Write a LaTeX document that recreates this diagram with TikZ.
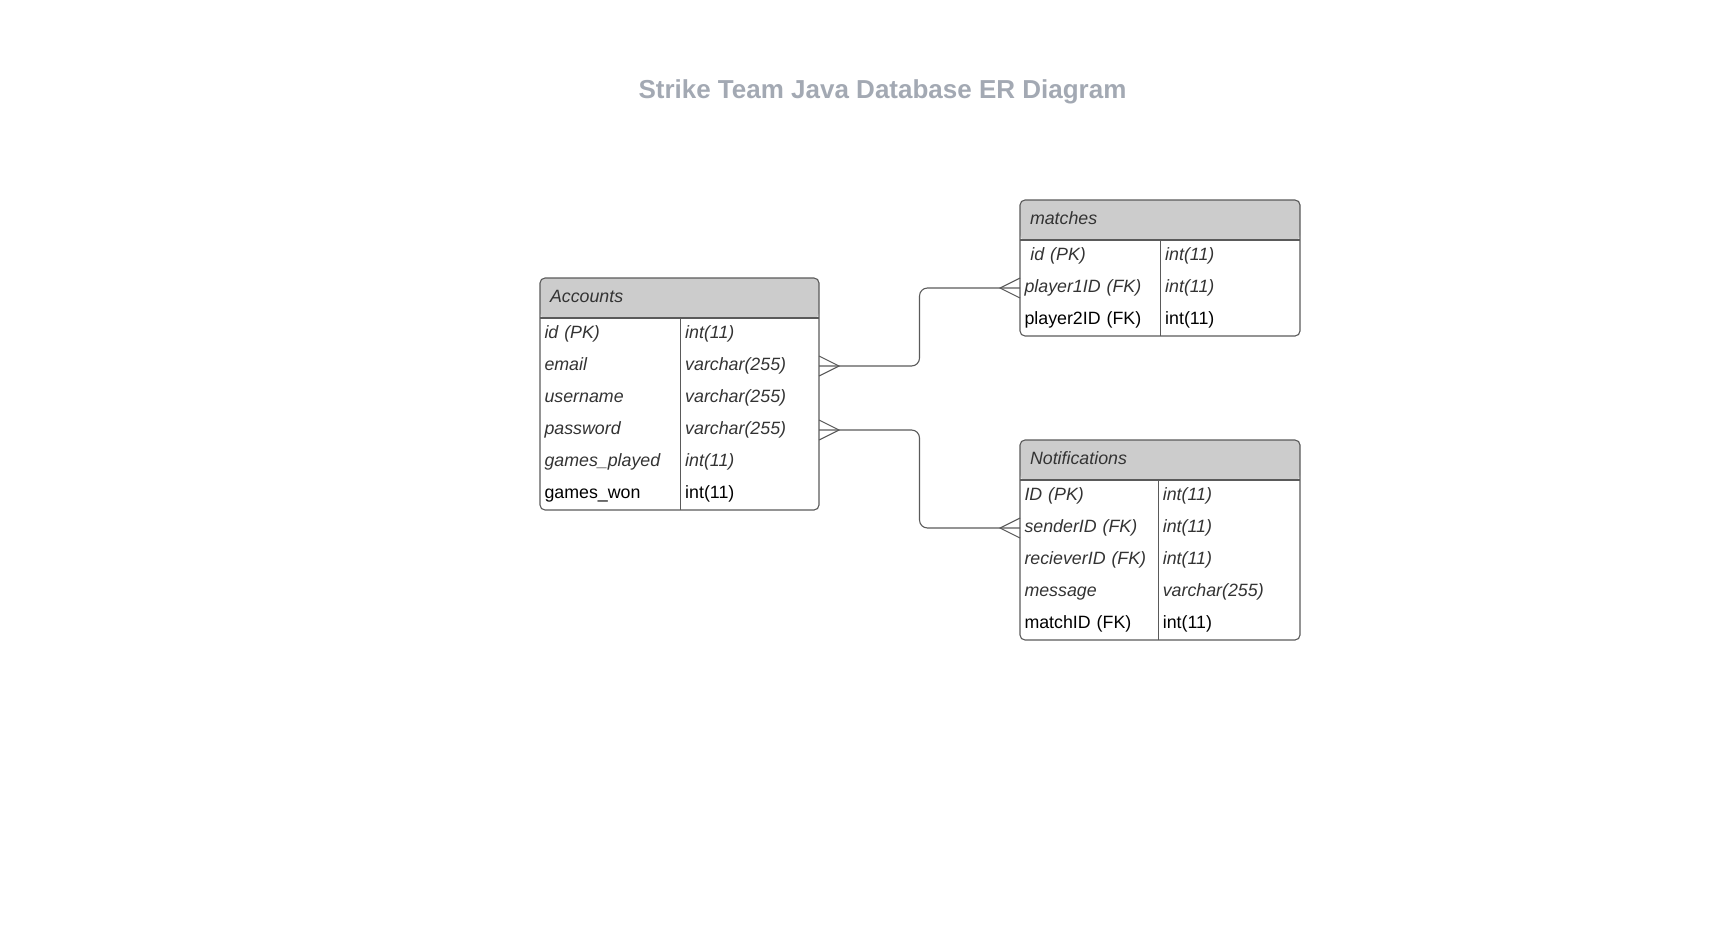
\documentclass[tikz,border=0pt]{standalone}
\usepackage{fontspec}
\setmainfont{Liberation Sans}
\usetikzlibrary{fit, positioning, calc}

\definecolor{titlegray}{HTML}{A3A9B3}
\definecolor{headgray}{HTML}{CCCCCC}
\definecolor{edgegray}{HTML}{5A5A5A}
\definecolor{fldtext}{HTML}{333333}

\begin{document}
\begin{tikzpicture}[
        x=1pt, y=-1pt,
        title/.style={font=\fontsize{26pt}{30pt}\selectfont\bfseries, text=titlegray, anchor=base},
        head/.style={rectangle, fill=headgray, rounded corners=5pt, anchor=north west, minimum height=40pt, inner xsep=10pt, inner ysep=0pt, outer sep=0pt, text width=#1, align=left, text height=12pt, text depth=4pt, font=\fontsize{17.8pt}{21pt}\selectfont\itshape, text=fldtext},
        fld/.style={rectangle, minimum height=32pt, inner xsep=4.5pt, inner ysep=0pt, outer sep=0pt, text width=#1, align=left, text height=12pt, text depth=4pt, font=\fontsize{17.8pt}{21pt}\selectfont\itshape, text=fldtext},
        fldlast/.style={fld=#1, font=\fontsize{17.8pt}{21pt}\selectfont\upshape, text=black},
        tbl/.style={rectangle, draw=edgegray, line width=1.1pt, rounded corners=5pt, inner sep=0pt},
        edge/.style={draw=edgegray, line width=1.1pt},
        link/.style={draw=edgegray, line width=1.1pt, rounded corners=8pt},
        foot/.style={draw=edgegray, line width=1.1pt}
    ]
        \useasboundingbox (0,0) rectangle (1720,945);

        % Title
        \node[title] (ttl) at (882.5,98.5) {Strike Team Java Database ER Diagram};

        % Accounts
        \node[head=259pt] (acc) at (540,278) {Accounts};
        \node[fld=131.7pt, below=0pt of acc.south west, anchor=north west] (acc-id) {id (PK)};
        \node[fld=129.3pt, right=0pt of acc-id] (acc-id-t) {int(11)};
        \node[fld=131.7pt, below=0pt of acc-id] (acc-mail) {email};
        \node[fld=129.3pt, right=0pt of acc-mail] (acc-mail-t) {varchar(255)};
        \node[fld=131.7pt, below=0pt of acc-mail] (acc-user) {username};
        \node[fld=129.3pt, right=0pt of acc-user] (acc-user-t) {varchar(255)};
        \node[fld=131.7pt, below=0pt of acc-user] (acc-pass) {password};
        \node[fld=129.3pt, right=0pt of acc-pass] (acc-pass-t) {varchar(255)};
        \node[fld=131.7pt, below=0pt of acc-pass] (acc-play) {games\_played};
        \node[fld=129.3pt, right=0pt of acc-play] (acc-play-t) {int(11)};
        \node[fldlast=131.7pt, below=0pt of acc-play] (acc-won) {games\_won};
        \node[fldlast=129.3pt, right=0pt of acc-won] (acc-won-t) {int(11)};
        \node[tbl, fit=(acc)(acc-won-t)] (acc-box) {};
        \draw[edge] (acc.south west) -- (acc.south east);
        \draw[edge] (acc-id-t.north west) -- (acc-won-t.south west);

        % matches
        \node[head=260pt] (mat) at (1020,200) {matches};
        \node[fld=131.7pt, below=0pt of mat.south west, anchor=north west] (mat-id) {\ id (PK)};
        \node[fld=130.3pt, right=0pt of mat-id] (mat-id-t) {int(11)};
        \node[fld=131.7pt, below=0pt of mat-id] (mat-p1) {player1ID (FK)};
        \node[fld=130.3pt, right=0pt of mat-p1] (mat-p1-t) {int(11)};
        \node[fldlast=131.7pt, below=0pt of mat-p1] (mat-p2) {player2ID (FK)};
        \node[fldlast=130.3pt, right=0pt of mat-p2] (mat-p2-t) {int(11)};
        \node[tbl, fit=(mat)(mat-p2-t)] (mat-box) {};
        \draw[edge] (mat.south west) -- (mat.south east);
        \draw[edge] (mat-id-t.north west) -- (mat-p2-t.south west);

        % Notifications
        \node[head=260pt] (ntf) at (1020,440) {Notifications};
        \node[fld=129.3pt, below=0pt of ntf.south west, anchor=north west] (ntf-id) {ID (PK)};
        \node[fld=132.7pt, right=0pt of ntf-id] (ntf-id-t) {int(11)};
        \node[fld=129.3pt, below=0pt of ntf-id] (ntf-snd) {senderID (FK)};
        \node[fld=132.7pt, right=0pt of ntf-snd] (ntf-snd-t) {int(11)};
        \node[fld=129.3pt, below=0pt of ntf-snd] (ntf-rcv) {recieverID (FK)};
        \node[fld=132.7pt, right=0pt of ntf-rcv] (ntf-rcv-t) {int(11)};
        \node[fld=129.3pt, below=0pt of ntf-rcv] (ntf-msg) {message};
        \node[fld=132.7pt, right=0pt of ntf-msg] (ntf-msg-t) {varchar(255)};
        \node[fldlast=129.3pt, below=0pt of ntf-msg] (ntf-mid) {matchID (FK)};
        \node[fldlast=132.7pt, right=0pt of ntf-mid] (ntf-mid-t) {int(11)};
        \node[tbl, fit=(ntf)(ntf-mid-t)] (ntf-box) {};
        \draw[edge] (ntf.south west) -- (ntf.south east);
        \draw[edge] (ntf-id-t.north west) -- (ntf-mid-t.south west);

        % Connectors
        \draw[link] (acc-mail-t.east) -| ($(acc-mail-t.east)!0.5!(mat-p1.west)$) |- (mat-p1.west);
        \draw[link] (acc-pass-t.east) -| ($(acc-pass-t.east)!0.5!(ntf-snd.west)$) |- (ntf-snd.west);

        % Crow's feet
        \draw[foot] ([yshift=10pt]acc-mail-t.east) -- ([xshift=20pt]acc-mail-t.east) -- ([yshift=-10pt]acc-mail-t.east);
        \draw[foot] ([yshift=10pt]acc-pass-t.east) -- ([xshift=20pt]acc-pass-t.east) -- ([yshift=-10pt]acc-pass-t.east);
        \draw[foot] ([yshift=10pt]mat-p1.west) -- ([xshift=-20pt]mat-p1.west) -- ([yshift=-10pt]mat-p1.west);
        \draw[foot] ([yshift=10pt]ntf-snd.west) -- ([xshift=-20pt]ntf-snd.west) -- ([yshift=-10pt]ntf-snd.west);
    \end{tikzpicture}
\end{document}
